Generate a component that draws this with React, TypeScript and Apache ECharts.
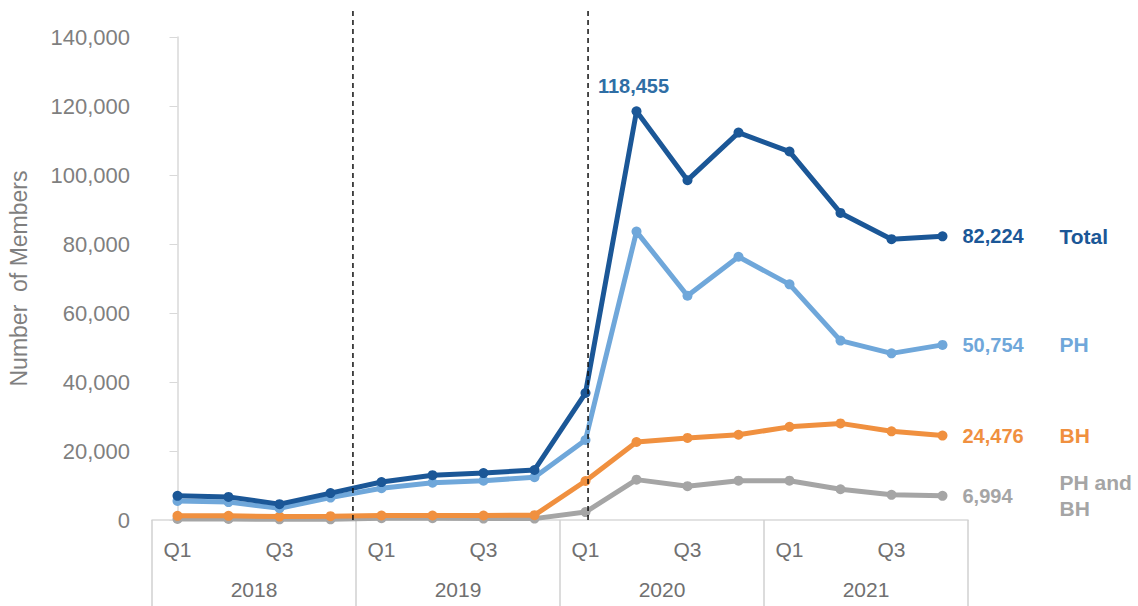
import React, { useEffect, useRef } from "react";
import * as echarts from "echarts";

const quarters = ["Q1", "Q2", "Q3", "Q4", "Q1", "Q2", "Q3", "Q4", "Q1", "Q2", "Q3", "Q4", "Q1", "Q2", "Q3", "Q4"];
const years = ["2018", "2019", "2020", "2021"];

const total = [7000, 6700, 4600, 7800, 11000, 13000, 13600, 14500, 36800, 118455, 98500, 112300, 106800, 89000, 81400, 82224];
const ph = [5500, 5200, 3400, 6500, 9200, 10800, 11400, 12400, 23200, 83600, 65000, 76300, 68300, 52000, 48300, 50754];
const bh = [1200, 1200, 1000, 1100, 1300, 1300, 1300, 1400, 11300, 22600, 23800, 24700, 27000, 28000, 25700, 24476];
const phAndBh = [300, 300, 200, 200, 500, 500, 400, 400, 2300, 11700, 9800, 11400, 11400, 8900, 7300, 6994];

const seriesNames = ["Total", "PH", "BH", "PH and\nBH"];
const seriesColors = ["#1b5797", "#6fa7da", "#f0903f", "#a5a5a5"];

// event markers: position on the quarter index scale, and their names
const eventPositions = [3.44, 8.05];
const eventNames = ["CC 2.0", "COVID-19 Pandemic"];
const eventTop = 148400;

const yTicks = { min: 0, max: 140000, interval: 20000 };

const FONT = "'Liberation Sans', Arial, sans-serif";
const fmt = (v: number) => v.toLocaleString("en-US");

export default function App() {
  const ref = useRef<HTMLDivElement>(null);

  useEffect(() => {
    if (!ref.current) return;
    const chart = echarts.init(ref.current, undefined, { renderer: "svg" });

    const dataSets = [total, ph, bh, phAndBh];
    const lineSeries = dataSets.map((arr, si) => {
      const color = seriesColors[si];
      const last = arr.length - 1;
      const data = arr.map((v, i) => {
        if (i === last) {
          return {
            value: v,
            label: {
              show: true,
              position: "right",
              distance: 112,
              formatter: seriesNames[si],
              color,
              fontSize: 21,
              fontWeight: "bold",
              fontFamily: FONT,
              lineHeight: 26,
              align: "left",
            },
          };
        }
        if (si === 0 && v === Math.max(...arr)) {
          return {
            value: v,
            label: {
              show: true,
              position: "top",
              distance: 12,
              offset: [-3, 2],
              formatter: fmt(v),
              color: "#2f6ea5",
              fontSize: 20,
              fontWeight: "bold",
              fontFamily: FONT,
            },
          };
        }
        return v;
      });
      return {
        type: "line",
        name: seriesNames[si],
        xAxisIndex: 0,
        yAxisIndex: 0,
        data,
        z: 10 - si,
        symbol: "circle",
        symbolSize: 10,
        itemStyle: { color },
        lineStyle: { color, width: 5 },
        endLabel: {
          show: true,
          distance: 20,
          formatter: () => fmt(arr[last]),
          color,
          fontSize: 20,
          fontWeight: "bold",
          fontFamily: FONT,
        },
      };
    });
    lineSeries.reverse();

    const eventSeries = eventPositions.map((x, i) => ({
      type: "line",
      xAxisIndex: 2,
      yAxisIndex: 0,
      clip: false,
      symbol: "none",
      z: 20,
      lineStyle: { color: "#111", width: 1.5, type: [5, 4] },
      data: [
        [x, 0],
        {
          value: [x, eventTop],
          label: {
            show: true,
            position: "right",
            distance: 8,
            offset: [0, 26],
            formatter: eventNames[i],
            color: "#262626",
            fontSize: 24,
            fontFamily: FONT,
          },
        },
      ],
    }));

    chart.setOption({
      animation: false,
      backgroundColor: "#ffffff",
      textStyle: { fontFamily: FONT },
      grid: { left: 152, right: 170, top: 37, bottom: 86, containLabel: false, outerBoundsMode: "none" },
      xAxis: [
        {
          type: "category",
          position: "bottom",
          data: quarters,
          boundaryGap: true,
          axisLine: { show: true, lineStyle: { color: "#d9d9d9", width: 1.5 } },
          axisTick: { show: false },
          axisLabel: { interval: 1, margin: 19, fontSize: 21, color: "#707070", fontFamily: FONT },
          splitLine: { show: false },
        },
        {
          type: "category",
          position: "bottom",
          offset: 0,
          data: years,
          boundaryGap: true,
          axisLine: { show: false },
          axisTick: { show: true, length: 90, lineStyle: { color: "#d0d0d0", width: 1.5 } },
          axisLabel: { margin: 59, fontSize: 21, color: "#707070", fontFamily: FONT },
          splitLine: { show: false },
        },
        {
          type: "value",
          position: "top",
          min: -0.5,
          max: quarters.length - 0.5,
          show: false,
          splitLine: { show: false },
        },
      ],
      yAxis: {
        type: "value",
        min: yTicks.min,
        max: yTicks.max,
        interval: yTicks.interval,
        name: "Number  of Members",
        nameLocation: "middle",
        nameGap: 122,
        nameTextStyle: { fontSize: 23, color: "#7f7f7f", fontFamily: FONT },
        axisLine: { show: true, lineStyle: { color: "#d9d9d9", width: 1.5 } },
        axisTick: { show: true, length: 8, lineStyle: { color: "#d9d9d9" } },
        axisLabel: { margin: 22, fontSize: 22, color: "#7f7f7f", formatter: (v: number) => fmt(v), fontFamily: FONT },
        splitLine: { show: false },
      },
      series: [...lineSeries, ...eventSeries],
    });

    return () => chart.dispose();
  }, []);

  return <div ref={ref} style={{ position: "fixed", left: 0, top: 0, width: 1138, height: 606 }} />;
}
